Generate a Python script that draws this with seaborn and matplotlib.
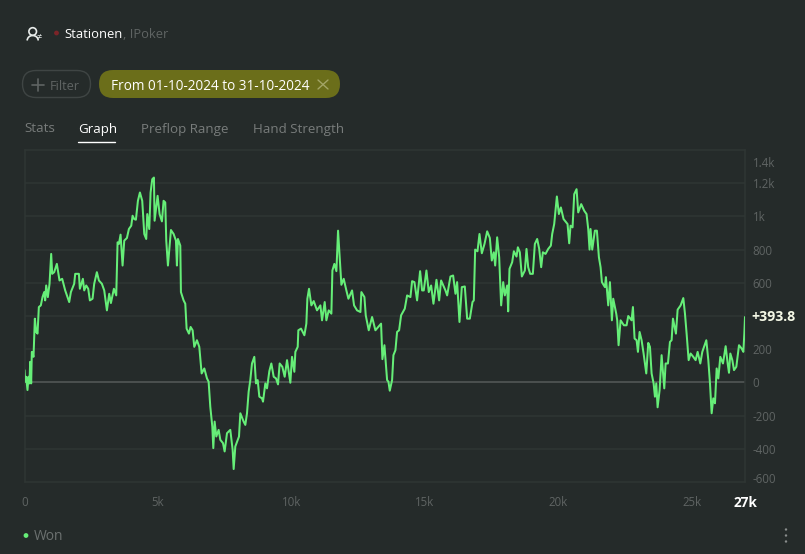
import matplotlib
matplotlib.use("Agg")
import matplotlib.pyplot as plt
from matplotlib.patches import FancyBboxPatch, Circle, Arc
from matplotlib.transforms import ScaledTranslation
import pandas as pd
import seaborn as sns

hands = [0, 25, 62, 112, 150, 188, 212, 250, 275, 338, 388, 438, 488, 538, 612, 675, 738, 775, 812, 875,
         938, 1000, 1038, 1112, 1212, 1312, 1412, 1525, 1675, 1738, 1862, 1900, 2038, 2075, 2188, 2238, 2312, 2388, 2450, 2550,
         2612, 2712, 2788, 2900, 2988, 3088, 3175, 3238, 3350, 3438, 3488, 3538, 3600, 3675, 3738, 3838, 3912, 4000, 4050, 4112,
         4175, 4250, 4325, 4412, 4488, 4562, 4600, 4675, 4725, 4788, 4850, 4875, 4988, 5062, 5150, 5212, 5275, 5312, 5375, 5488,
         5588, 5675, 5712, 5750, 5838, 5862, 5962, 6025, 6075, 6162, 6225, 6300, 6362, 6462, 6550, 6638, 6738, 6838, 6900, 6962,
         7038, 7075, 7125, 7188, 7275, 7338, 7438, 7500, 7588, 7712, 7800, 7838, 7900, 8038, 8088, 8212, 8275, 8338, 8400, 8462,
         8525, 8612, 8675, 8738, 8800, 8900, 8938, 9025, 9088, 9175, 9250, 9338, 9425, 9500, 9562, 9662, 9750, 9838, 9962, 10025,
         10112, 10150, 10238, 10262, 10362, 10488, 10562, 10600, 10662, 10750, 10838, 10962, 11088, 11150, 11250, 11312, 11400, 11500, 11538, 11612,
         11688, 11750, 11812, 11875, 11962, 12062, 12138, 12275, 12350, 12462, 12588, 12625, 12738, 12788, 12900, 13025, 13150, 13362, 13412, 13488,
         13588, 13638, 13688, 13775, 13825, 13900, 13962, 14038, 14112, 14250, 14338, 14462, 14525, 14612, 14712, 14825, 14900, 14962, 15062, 15150,
         15238, 15325, 15438, 15538, 15612, 15775, 15838, 15962, 16062, 16150, 16212, 16300, 16388, 16500, 16588, 16688, 16788, 16838, 16888, 16975,
         17050, 17138, 17238, 17338, 17438, 17512, 17588, 17638, 17712, 17788, 17862, 17938, 18000, 18088, 18125, 18175, 18275, 18338, 18438, 18488,
         18562, 18638, 18750, 18812, 18875, 18950, 19050, 19125, 19212, 19288, 19362, 19425, 19525, 19625, 19725, 19775, 19850, 19950, 20025, 20100,
         20200, 20350, 20412, 20462, 20538, 20600, 20688, 20750, 20862, 20975, 21062, 21125, 21175, 21212, 21275, 21375, 21450, 21525, 21588, 21638,
         21750, 21788, 21875, 21938, 22012, 22062, 22175, 22212, 22262, 22338, 22462, 22562, 22625, 22750, 22800, 22862, 22938, 22988, 23050, 23125,
         23200, 23300, 23375, 23438, 23500, 23575, 23625, 23675, 23725, 23800, 23875, 23975, 24025, 24112, 24188, 24250, 24300, 24412, 24475, 24588,
         24688, 24750, 24812, 24888, 24962, 25062, 25150, 25225, 25325, 25400, 25550, 25625, 25688, 25750, 25812, 25875, 25938, 26000, 26075, 26175,
         26275, 26350, 26400, 26450, 26525, 26588, 26675, 26775, 26875, 26938, 26975, 27000]

won = [74, 4, 34, -46, 34, -6, 124, -6, 184, 154, 384, 304, 294, 454, 464, 514, 544, 494, 584, 514,
       594, 774, 654, 664, 714, 614, 624, 554, 484, 544, 594, 654, 654, 564, 624, 554, 584, 564, 494, 504,
       594, 664, 614, 594, 554, 434, 534, 478, 564, 524, 844, 834, 890, 704, 854, 870, 924, 944, 1004, 984,
       980, 1094, 1144, 1094, 894, 864, 1014, 924, 1144, 1224, 1234, 974, 1124, 1014, 970, 1094, 1084, 854, 704, 918,
       894, 854, 704, 864, 824, 544, 494, 474, 324, 294, 334, 314, 214, 254, 214, 54, 84, 24, 4, -146,
       -266, -396, -236, -326, -286, -346, -366, -416, -306, -286, -406, -522, -386, -326, -186, -236, -256, -186, -56, 14,
       114, 154, -6, 14, -86, -96, -116, -6, -36, 68, 114, 34, 24, -12, 114, 94, 34, 134, -2, 154,
       64, 184, 214, 314, 324, 284, 354, 504, 564, 464, 490, 434, 464, 374, 484, 374, 434, 414, 674, 714,
       670, 914, 754, 588, 624, 554, 504, 554, 464, 434, 424, 544, 514, 404, 314, 394, 314, 354, 140, 224,
       14, 4, -50, 14, 164, 194, 304, 314, 404, 444, 524, 514, 610, 604, 494, 670, 554, 554, 674, 544,
       584, 474, 618, 494, 614, 554, 524, 638, 644, 534, 604, 364, 574, 578, 384, 384, 484, 494, 800, 790,
       894, 778, 834, 910, 870, 734, 784, 704, 874, 754, 464, 604, 524, 584, 428, 684, 724, 790, 758, 814,
       784, 638, 674, 804, 694, 654, 654, 834, 864, 804, 694, 784, 774, 804, 824, 894, 954, 1120, 1014, 1054,
       984, 954, 838, 944, 934, 1134, 1164, 1024, 1074, 1034, 1014, 924, 800, 924, 800, 914, 914, 754, 694, 604,
       574, 634, 464, 604, 374, 504, 414, 374, 224, 374, 344, 344, 400, 374, 454, 264, 254, 184, 304, 254,
       174, 54, 238, 214, 54, -6, -86, -6, -150, -46, 164, -36, 114, 114, 244, 254, 384, 294, 438, 464,
       508, 414, 294, 134, 174, 154, 134, 184, 114, 184, 254, 134, -6, -186, -96, -126, 84, 24, 154, 114,
       218, 114, 58, 174, 134, 74, 94, 224, 204, 184, 294, 393.8]

y_ticks = [-600, -400, -200, 0, 200, 600, 800, 1000, 1200, 1400]
y_labels = ["-600", "-400", "-200", "0", "200", "600", "800", "1k", "1.2k", "1.4k"]
grid_levels = [-400, -200, 200, 400, 600, 800, 1000, 1200]
x_ticks = [0, 5000, 10000, 15000, 20000, 25000, 27000]
x_labels = ["0", "5k", "10k", "15k", "20k", "25k", "27k"]
last_label = "+393.8"
tabs = ["Stats", "Graph", "Preflop Range", "Hand Strength"]

BG = "#252b2a"
GRID = "#2f3634"
MUTED = "#5f6463"
TAB = "#787c7b"
GREEN = "#66ee78"
W, H = 805, 554

sns.set_theme(style="dark", rc={"axes.facecolor": BG, "figure.facecolor": BG})
plt.rcParams["font.family"] = ["Open Sans", "DejaVu Sans"]

fig = plt.figure(figsize=(W / 100, H / 100), dpi=100)

# chart frame in pixels: x 24.5-745, y 150-482
ax = fig.add_axes([24.5 / W, 1 - 482 / H, (745 - 24.5) / W, (482 - 150) / H])
df = pd.DataFrame({"hands": hands, "won": won})
for level in grid_levels:
    ax.axhline(level, color=GRID, lw=1.1, zorder=1)
ax.axhline(0, color="#565b59", lw=1.1, zorder=1)
sns.lineplot(data=df, x="hands", y="won", estimator=None, sort=False, color=GREEN, lw=1.45, ax=ax, zorder=3)
ax.set_xlim(0, 27000)
ax.set_ylim(-600, 1400)
ax.set_xlabel("")
ax.set_ylabel("")
ax.grid(False)
for spine in ax.spines.values():
    spine.set_color(GRID)
    spine.set_linewidth(1.1)

ax.yaxis.tick_right()
ax.set_yticks(y_ticks, y_labels)
ax.set_xticks(x_ticks, x_labels)
ax.tick_params(axis="y", length=0, pad=5.5, labelsize=8.3, labelcolor=MUTED)
ax.tick_params(axis="x", length=0, pad=10, labelsize=8.3, labelcolor=MUTED)

# end labels sit inside the frame in the original
y_tick_labels = ax.get_yticklabels()
y_tick_labels[0].set_transform(y_tick_labels[0].get_transform() + ScaledTranslation(0, 4 / 100, fig.dpi_scale_trans))
y_tick_labels[-1].set_transform(y_tick_labels[-1].get_transform() + ScaledTranslation(0, -12 / 100, fig.dpi_scale_trans))
x_tick_labels = ax.get_xticklabels()
x_tick_labels[-1].set_color("white")
x_tick_labels[-1].set_fontweight("bold")
x_tick_labels[-1].set_fontsize(9.8)
ax.text(1.0095, won[-1], last_label, transform=ax.get_yaxis_transform(), color="#f4f8e6",
        fontsize=10.2, fontweight="bold", va="center", ha="left")

# page furniture drawn in pixel coordinates
ui = fig.add_axes([0, 0, 1, 1], facecolor="none")
ui.set_xlim(0, W)
ui.set_ylim(H, 0)
ui.axis("off")

ui.add_patch(Circle((32.7, 31.5), 3.8, fill=False, ec="#e8ecea", lw=1.2))
ui.add_patch(Arc((32.7, 40.5), 11, 10, theta1=180, theta2=360, ec="#e8ecea", lw=1.2))
ui.text(38.8, 37.5, "≠", color="#e8ecea", fontsize=6.5, va="center", ha="center")
ui.add_patch(Circle((56.5, 33), 2.4, color="#7c2428", lw=0))
ui.text(64.5, 34, "Stationen", color="white", fontsize=9.4, va="center")
ui.text(122.5, 34, ", IPoker", color=MUTED, fontsize=9.3, va="center")

ui.add_patch(FancyBboxPatch((22.5, 70.5), 68, 27, boxstyle="round,pad=0,rounding_size=13.5", fc="none", ec="#3f4544", lw=1))
ui.plot([32, 44], [84.5, 84.5], color=MUTED, lw=1.2)
ui.plot([38, 38], [78.5, 90.5], color=MUTED, lw=1.2)
ui.text(50, 86, "Filter", color=MUTED, fontsize=9.2, va="center")
ui.add_patch(FancyBboxPatch((99, 70), 241, 28, boxstyle="round,pad=0,rounding_size=14", fc="#6b6e1a", ec="none"))
ui.text(111, 86, "From 01-10-2024 to 31-10-2024", color="white", fontsize=9.85, va="center")
ui.plot([318, 328], [80, 89], color="#a3a566", lw=1)
ui.plot([318, 328], [89, 80], color="#a3a566", lw=1)

for label, x in zip(tabs, [24, 78, 141, 253]):
    ui.text(x, 129, label, color="white" if label == "Graph" else TAB, fontsize=9.6, va="center")
ui.plot([78, 115], [141.5, 141.5], color="white", lw=1)

ui.add_patch(Circle((26, 535.5), 2.4, color=GREEN, lw=0))
ui.text(34, 536.5, "Won", color="#6c7170", fontsize=10, va="center")
for y in [529.5, 535.5, 541.5]:
    ui.add_patch(Circle((786, y), 1.2, color="#8a8e8d", lw=0))

fig.savefig("out.png", dpi=100, facecolor=BG)
